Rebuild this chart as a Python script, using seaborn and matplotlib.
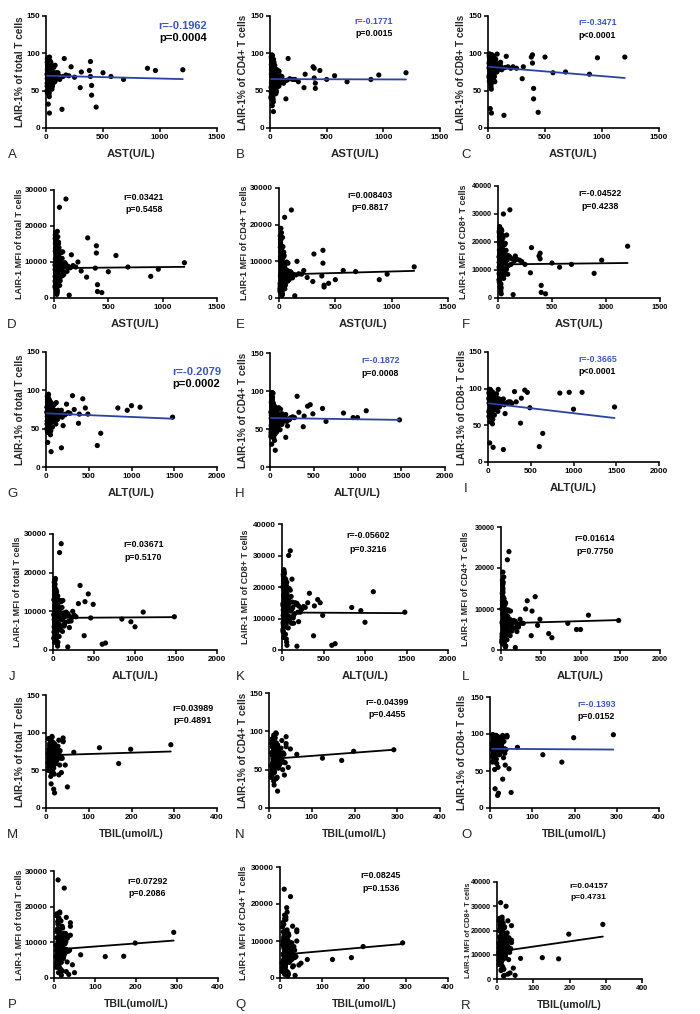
import numpy as np
import pandas as pd
import matplotlib
matplotlib.use("Agg")
import matplotlib.pyplot as plt
import seaborn as sns

sns.set_theme(style="ticks")
plt.rcParams["font.family"] = ["Liberation Sans", "DejaVu Sans"]
plt.rcParams["font.weight"] = "bold"

# one value per patient (outlying patients first, then the dense group)
ast = [1200, 960, 890, 680, 570, 500, 440, 400, 400, 390, 390, 380, 300, 310, 160, 140, 50, 110, 80, 60, 90, 30, 220, 20, 250,
       18, 25, 32, 40, 22, 45, 15, 55, 28, 65, 35, 20, 75, 48, 12, 38, 85, 26, 60, 30, 95, 42, 16, 110, 52, 24, 70, 36, 130, 19,
       44, 80, 14, 58, 27, 100, 33, 62, 21, 150, 46, 17, 90, 39, 23, 120, 50, 29, 68, 13, 175, 34, 57, 31, 78, 41, 200, 26, 105, 37,
       10, 14, 19, 23, 27, 11, 16, 20, 33, 9, 13, 17, 21, 25, 12, 15, 18, 22, 30, 10,
       14, 19, 24, 28, 35, 9, 12, 16, 20, 26, 40, 11, 15, 19, 23, 45, 13, 17, 21, 55]
alt = [1100, 840, 1000, 1480, 490, 950, 600, 640, 380, 430, 390, 460, 200, 330, 310, 180, 80, 100, 120, 50, 140, 60, 240, 20, 220,
       15, 30, 40, 55, 18, 60, 12, 80, 35, 90, 25, 45, 110, 70, 10, 50, 130, 22, 100, 65, 150, 38, 28, 170, 75, 20, 120, 48, 200, 16,
       85, 140, 24, 95, 42, 160, 32, 105, 14, 230, 58, 36, 125, 68, 26, 190, 62, 52, 88, 19, 260, 46, 115, 29, 135, 44, 280, 56, 180, 78,
       14, 20, 27, 33, 40, 17, 22, 30, 45, 12, 18, 24, 31, 38, 15, 21, 26, 35, 47, 13,
       19, 28, 36, 42, 55, 11, 16, 23, 29, 39, 60, 15, 22, 27, 34, 65, 20, 25, 32, 75]
tbil = [198, 30, 125, 22, 35, 28, 50, 30, 45, 40, 25, 20, 15, 12, 40, 18, 25, 10, 292, 170, 65, 20, 15, 12, 30,
        8, 12, 15, 10, 20, 18, 6, 25, 9, 14, 30, 11, 16, 22, 7, 35, 13, 19, 28, 10, 17, 40, 8, 21, 12, 24, 15, 9, 19, 32,
        11, 26, 7, 14, 16, 23, 12, 38, 10, 18, 21, 13, 27, 8, 17, 22, 33, 11, 15, 9, 20, 29, 12, 14, 24, 10, 16, 36, 13, 19,
        5, 9, 13, 6, 18, 11, 22, 8, 14, 7, 10, 16, 12, 20, 6, 9, 14, 17, 10, 8,
        12, 15, 7, 19, 11, 5, 13, 9, 16, 12, 24, 8, 14, 6, 18, 10, 11, 23, 9, 15]
pct_total = [78, 77, 80, 65, 69, 74, 28, 44, 57, 89, 69, 77, 54, 75, 93, 25, 72, 70, 84, 59, 74, 20, 82, 32, 68,
             72, 65, 80, 58, 85, 70, 50, 76, 62, 68, 90, 55, 73, 60, 78, 66, 71, 45, 82, 74, 67, 88, 63, 70, 52, 77, 69, 83, 68, 57,
             75, 64, 92, 61, 48, 72, 79, 66, 70, 69, 84, 54, 73, 59, 87, 65, 76, 42, 81, 67, 71, 74, 56, 95, 62, 86, 70, 47, 74, 64,
             60, 82, 74, 66, 53, 88, 71, 63, 79, 50, 85, 68, 76, 58, 92, 64, 81, 69, 73, 56,
             90, 65, 77, 61, 83, 72, 47, 86, 70, 62, 78, 66, 94, 54, 80, 67, 75, 59, 84, 71]
pct_cd4 = [74, 71, 65, 62, 70, 65, 77, 60, 53, 80, 67, 82, 54, 72, 93, 39, 66, 62, 76, 62, 70, 22, 65, 30, 62,
           68, 58, 75, 50, 82, 62, 45, 70, 55, 64, 88, 48, 66, 52, 72, 60, 63, 40, 78, 69, 62, 84, 57, 65, 46, 73, 61, 80, 63, 50,
           71, 58, 90, 54, 38, 67, 76, 59, 64, 64, 79, 47, 68, 51, 85, 60, 72, 35, 77, 60, 66, 70, 49, 92, 56, 81, 65, 43, 69, 57,
           55, 86, 68, 72, 58, 95, 63, 80, 70, 42, 78, 98, 61, 66, 85, 52, 74, 97, 59, 48,
           83, 69, 56, 76, 64, 40, 53, 88, 61, 73, 67, 50, 91, 45, 82, 57, 92, 65, 71, 60]
pct_cd8 = [95, 94, 72, 75, 74, 95, 21, 39, 53, 98, 87, 95, 66, 82, 96, 17, 85, 88, 99, 62, 82, 20, 82, 26, 80,
           85, 78, 92, 70, 96, 88, 62, 90, 75, 82, 98, 66, 84, 72, 94, 80, 86, 55, 93, 89, 79, 97, 76, 83, 64, 91, 81, 95, 80, 68,
           87, 77, 99, 74, 60, 85, 93, 79, 86, 81, 94, 67, 84, 71, 97, 78, 90, 52, 92, 83, 82, 88, 69, 98, 75, 95, 80, 58, 86, 76,
           80, 92, 88, 84, 72, 97, 86, 77, 93, 68, 96, 83, 91, 74, 99, 79, 94, 85, 88, 70,
           97, 82, 90, 75, 95, 87, 63, 96, 84, 78, 92, 81, 98, 71, 93, 83, 89, 73, 95, 85]
mfi_total = [9800, 8000, 6000, 8600, 11800, 7300, 1500, 1800, 3700, 14500, 12500, 8300, 5800, 16700, 12000, 800, 25200, 27500,
             12800, 6100, 6500, 2000, 10000, 3000, 7500,
             9000, 7000, 12000, 5000, 14500, 8000, 3000, 10500, 6000, 9500, 17000, 4000, 11000, 5500, 13000, 7500, 8500, 2000,
             12500, 10000, 7200, 15500, 6500, 9200, 3500, 11500, 8200, 13500, 8800, 4500, 10800, 6800, 18000, 5800, 2500, 9800,
             12200, 7800, 9000, 8400, 14000, 4200, 9600, 5200, 16000, 7400, 11200, 1500, 12800, 8000, 9000, 10200, 4800, 18500,
             6200, 15000, 8600, 1000, 9400, 6600,
             6000, 13800, 10000, 7800, 4400, 16500, 9600, 6300, 11800, 3200, 15200, 8800, 10600, 5300, 17500, 7100, 12600, 9300,
             10300, 4700, 16800, 7600, 11300, 5900, 13200, 9200, 2800, 15800, 8700, 6700, 11600, 7900, 18200, 4100, 12400, 8300,
             10900, 5600, 13700, 9100]
mfi_cd4 = [8500, 6500, 5000, 7200, 7500, 5000, 4000, 3000, 3500, 13000, 9500, 6000, 4500, 12000, 10000, 600, 22000, 24000,
           9500, 5500, 5000, 1000, 7500, 2200, 5600,
           6500, 5200, 9000, 3500, 12000, 6000, 2000, 8000, 4500, 7000, 14000, 3000, 7500, 4200, 10000, 5500, 6200, 1500,
           9500, 7800, 5400, 12500, 4800, 6800, 2500, 8800, 6000, 11000, 6400, 3300, 8200, 5000, 15000, 4300, 1800, 7200,
           9300, 5800, 6800, 6300, 11500, 3000, 7100, 3800, 13000, 5500, 8500, 1000, 9800, 6000, 6600, 7600, 3500, 16500,
           4600, 11800, 6500, 700, 7000, 4900,
           4000, 10500, 7200, 9000, 5800, 17000, 6300, 12500, 8000, 2600, 11200, 19000, 5900, 7300, 13800, 3900, 8700, 17800,
           5200, 2300, 12700, 7700, 4500, 10200, 6700, 1800, 3600, 14500, 5600, 9700, 7000, 3200, 15800, 2800, 11400, 4800,
           16000, 6900, 8300, 6100]
mfi_cd8 = [18500, 13500, 8800, 12000, 11000, 12500, 1500, 2000, 4500, 16000, 14000, 15000, 9000, 18000, 15000, 1200, 30000,
           31500, 22500, 8300, 8500, 1500, 13000, 4000, 12000,
           14000, 11000, 18000, 9000, 21000, 13000, 6000, 16000, 10000, 15000, 24000, 7500, 17000, 9500, 20000, 12000, 13500,
           4000, 19000, 15500, 11500, 22000, 10500, 14500, 7000, 17500, 13000, 20500, 14000, 8000, 16500, 11000, 25000, 9800,
           5000, 15000, 18500, 12500, 14200, 13200, 21500, 7800, 15200, 9200, 23000, 12000, 17000, 3500, 19500, 12800, 13800,
           16000, 8500, 24500, 10200, 22500, 13500, 2500, 14800, 10800,
           11000, 19800, 16000, 13000, 8200, 23500, 15800, 10300, 18800, 6500, 21800, 14400, 16800, 9300, 24000, 11900, 19200,
           14900, 16300, 8700, 22800, 12300, 17300, 9700, 20300, 14700, 5600, 22300, 13900, 11300, 17800, 12700, 25500, 7600,
           19100, 13400, 17100, 8900, 20800, 14100]

df = pd.DataFrame({"AST": ast, "ALT": alt, "TBIL": tbil,
                   "pct_total": pct_total, "pct_cd4": pct_cd4, "pct_cd8": pct_cd8,
                   "mfi_total": mfi_total, "mfi_cd4": mfi_cd4, "mfi_cd8": mfi_cd8})

# panels A-R
letters = list("ABCDEFGHIJKLMNOPQR")
x_vars = ["AST"] * 6 + ["ALT"] * 6 + ["TBIL"] * 6
y_vars = ["pct_total", "pct_cd4", "pct_cd8", "mfi_total", "mfi_cd4", "mfi_cd8",
          "pct_total", "pct_cd4", "pct_cd8", "mfi_total", "mfi_cd8", "mfi_cd4",
          "pct_total", "pct_cd4", "pct_cd8", "mfi_total", "mfi_cd4", "mfi_cd8"]
r_texts = ["r=-0.1962", "r=-0.1771", "r=-0.3471", "r=0.03421", "r=0.008403", "r=-0.04522",
           "r=-0.2079", "r=-0.1872", "r=-0.3665", "r=0.03671", "r=-0.05602", "r=0.01614",
           "r=0.03989", "r=-0.04399", "r=-0.1393", "r=0.07292", "r=0.08245", "r=0.04157"]
p_texts = ["p=0.0004", "p=0.0015", "p<0.0001", "p=0.5458", "p=0.8817", "p=0.4238",
           "p=0.0002", "p=0.0008", "p<0.0001", "p=0.5170", "p=0.3216", "p=0.7750",
           "p=0.4891", "p=0.4455", "p=0.0152", "p=0.2086", "p=0.1536", "p=0.4731"]
significant = [True, True, True, False, False, False, True, True, True,
               False, False, False, False, False, True, False, False, False]
# fitted line value at the smallest and largest x of each panel
fit_lo = [70, 65.5, 82, 8300, 6400, 12000, 70, 64.5, 80, 8300, 11900, 6500, 70, 64, 80, 8000, 6300, 11300]
fit_hi = [65.5, 65, 67, 8650, 7400, 12500, 63, 62, 60, 8500, 11700, 7300, 75, 76, 79, 10500, 9200, 17500]

x_titles = {"AST": "AST(U/L)", "ALT": "ALT(U/L)", "TBIL": "TBIL(umol/L)"}
x_max = {"AST": 1500, "ALT": 2000, "TBIL": 400}
x_step = {"AST": 500, "ALT": 500, "TBIL": 100}
y_titles = {"pct_total": "LAIR-1% of total T cells", "pct_cd4": "LAIR-1% of CD4+ T cells",
            "pct_cd8": "LAIR-1% of CD8+ T cells", "mfi_total": "LAIR-1 MFI of total T cells",
            "mfi_cd4": "LAIR-1 MFI of CD4+ T cells", "mfi_cd8": "LAIR-1 MFI of CD8+ T cells"}
y_max = {"pct_total": 150, "pct_cd4": 150, "pct_cd8": 150,
         "mfi_total": 30000, "mfi_cd4": 30000, "mfi_cd8": 40000}
y_step = {"pct_total": 50, "pct_cd4": 50, "pct_cd8": 50,
          "mfi_total": 10000, "mfi_cd4": 10000, "mfi_cd8": 10000}

# layout in pixels: axes box (left, top, right, bottom)
W, H = 700, 1014
boxes = [(46, 16, 217, 128), (270, 16, 440, 128), (488, 16, 659, 128),
         (54, 190, 217, 298), (279, 188, 448, 298), (498, 186, 660, 298),
         (46, 352, 217, 467), (270, 353, 445, 467), (488, 352, 659, 462),
         (53, 534, 217, 650), (282, 524, 448, 650), (501, 527, 660, 650),
         (46, 695, 217, 808), (269, 693, 440, 808), (490, 697, 659, 808),
         (54, 871, 218, 978), (280, 867, 448, 978), (497, 882, 642, 979)]
ylab_x = [20, 243, 461, 20, 245, 464, 20, 243, 462, 18, 246, 466, 20, 243, 462, 20, 244, 468]
letter_x = [12, 240, 466]
txt_x = [0.80, 0.61, 0.64, 0.55, 0.54, 0.63, 0.88, 0.63, 0.64, 0.55, 0.52, 0.59, 0.86, 0.69, 0.63, 0.57, 0.60, 0.63]
txt_y = [0.91, 0.95, 0.94, 0.93, 0.93, 0.93, 0.83, 0.93, 0.93, 0.91, 0.91, 0.91, 0.88, 0.92, 0.93, 0.90, 0.92, 0.95]
txt_size = [8, 6.3, 6.3, 6.3, 6.3, 6.3, 8, 6.3, 6.3, 6.3, 6.3, 6.3, 6.5, 6.3, 6.3, 6.3, 6.3, 6.0]

blue_line = "#2b42a4"
blue_text = "#3a55bb"

fig = plt.figure(figsize=(W / 100, H / 100), dpi=100)
fig.patch.set_facecolor("white")

for i, let in enumerate(letters):
    l, t, r, b = boxes[i]
    ax = fig.add_axes([l / W, 1 - b / H, (r - l) / W, (b - t) / H])
    xv, yv = x_vars[i], y_vars[i]
    col = blue_line if significant[i] else "black"

    sns.scatterplot(data=df, x=xv, y=yv, ax=ax, color="black", s=14,
                    edgecolor="none", linewidth=0, clip_on=False, legend=False, zorder=3)
    xs = [df[xv].min(), df[xv].max()]
    sns.lineplot(x=xs, y=[fit_lo[i], fit_hi[i]], ax=ax, color=col, linewidth=1.3, zorder=4)

    ax.set_xlim(0, x_max[xv])
    ax.set_ylim(0, y_max[yv])
    ax.set_xticks(np.arange(0, x_max[xv] + 1, x_step[xv]))
    ax.set_yticks(np.arange(0, y_max[yv] + 1, y_step[yv]))
    ax.set_xlabel("")
    ax.set_ylabel("")
    sns.despine(ax=ax)
    for s in ["left", "bottom"]:
        ax.spines[s].set_linewidth(1.2)
        ax.spines[s].set_color("black")
    tsize = 5.2 if let in ("R", "F", "L") else 5.8
    ax.tick_params(direction="out", length=3, width=1.1, labelsize=tsize, pad=1.5, colors="black")
    ax.set_facecolor("white")

    ax.text(txt_x[i], txt_y[i], r_texts[i], transform=ax.transAxes, ha="center", va="center",
            fontsize=txt_size[i], color=blue_text if significant[i] else "black")
    ax.text(txt_x[i], txt_y[i] - 0.11, p_texts[i], transform=ax.transAxes, ha="center", va="center",
            fontsize=txt_size[i], color="black")

    ysize = 7.2 if yv.startswith("pct") else 6.5
    if let == "R":
        ysize = 5.4
    fig.text(ylab_x[i] / W, 1 - (t + b) / 2 / H, y_titles[yv], rotation=90,
             ha="center", va="center", fontsize=ysize)
    xsize = 8.2 if xv != "TBIL" else 7.6
    fig.text((l + r) / 2 / W, 1 - (b + 26) / H, x_titles[xv], ha="center", va="center", fontsize=xsize)
    fig.text(letter_x[i % 3] / W, 1 - (b + 27) / H, let, ha="center", va="center",
             fontsize=9.5, fontweight="normal")

fig.savefig("out.png", dpi=100, facecolor="white")
